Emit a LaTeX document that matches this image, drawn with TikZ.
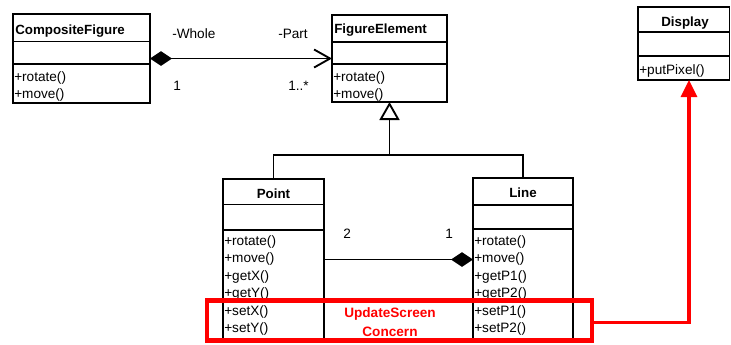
\documentclass[tikz,border=0pt]{standalone}
\usepackage{fontspec}
\setmainfont{Liberation Sans}
\usetikzlibrary{arrows.meta}

% UML class frame: name, left, top, right, bottom, first divider, second divider
\newcommand{\umlclass}[7]{%
  \node[classframe, minimum width={(#4-#2)*0.75pt}, minimum height={(#5-#3)*0.75pt}] (#1) at (#2,#3) {};
  \draw[umlline] (#2,#6) -- (#4,#6) (#2,#7) -- (#4,#7);
}

\tikzset{
  umlline/.style={line width=1.4pt},
  classframe/.style={draw, umlline, inner sep=0pt, outer sep=0pt, anchor=north west},
  classname/.style={font=\bfseries, inner sep=0pt},
  classop/.style={inner sep=0pt, anchor=base west},
  rolelabel/.style={inner sep=0pt, anchor=base west},
  concernbox/.style={draw=red, line width=3.6pt, inner sep=0pt, outer sep=0pt},
  concerntext/.style={text=red, align=center, inner sep=0pt,
    font=\bfseries\fontsize{10.2pt}{14.25pt}\selectfont},
  concernlink/.style={draw=red, line width=2.4pt}
}

\begin{document}
\begin{tikzpicture}[x=0.75pt, y=-0.75pt, font=\fontsize{10.2pt}{13pt}\selectfont]
\useasboundingbox (0,0) rectangle (731,344);

% classes
\umlclass{cf}{13}{14}{150}{103}{41.5}{64}
\node[classname, anchor=base west] (cfname) at (15,34) {CompositeFigure};
\node[classop] (cfop1) at (14,81) {+rotate()};
\node[classop] (cfop2) at (14,98) {+move()};

\umlclass{fe}{332}{15}{447}{102}{42}{64}
\node[classname, anchor=base west] (fename) at (334,33) {FigureElement};
\node[classop] (feop1) at (333,81) {+rotate()};
\node[classop] (feop2) at (333,98) {+move()};

\umlclass{disp}{638}{7}{729.5}{80}{32}{56}
\node[classname, anchor=base] (dispname) at (685,26) {Display};
\node[classop] (dispop1) at (639,74) {+putPixel()};

\umlclass{pt}{223}{179}{324}{340}{204.5}{230}
\node[classname, anchor=base] (ptname) at (273.5,198) {Point};
\node[classop] (ptop1) at (224,245) {+rotate()};
\node[classop] (ptop2) at (224,262.5) {+move()};
\node[classop] (ptop3) at (224,280) {+getX()};
\node[classop] (ptop4) at (224,297.5) {+getY()};
\node[classop] (ptop5) at (224,315) {+setX()};
\node[classop] (ptop6) at (224,332.5) {+setY()};

\umlclass{ln}{473}{178}{573}{339.5}{205}{229}
\node[classname, anchor=base] (lnname) at (523,197) {Line};
\node[classop] (lnop1) at (474,245) {+rotate()};
\node[classop] (lnop2) at (474,262.5) {+move()};
\node[classop] (lnop3) at (474,280) {+getP1()};
\node[classop] (lnop4) at (474,297.5) {+getP2()};
\node[classop] (lnop5) at (474,315) {+setP1()};
\node[classop] (lnop6) at (474,332.5) {+setP2()};

% composition CompositeFigure -> FigureElement
\draw[umlline, {Diamond[length=16.5pt,width=11pt]}-{Straight Barb[length=12pt,width=13.5pt]}]
  (cf.east) -- (fe.west);
\node[rolelabel] (whole) at (172,38) {-Whole};
\node[rolelabel] (part) at (278,38) {-Part};
\node[rolelabel] (mult1) at (173,90) {1};
\node[rolelabel] (multn) at (288,90) {1..*};

% generalization
\coordinate (gjy) at (0,155);
\coordinate (gj) at (fe.south |- gjy);
\draw[umlline] (pt.north) |- (gj) -| (ln.north);
\draw[umlline, -{Triangle[length=13.5pt,width=15pt,fill=white]}] (gj) -- (fe.south);

% composition Line <- Point
\draw[umlline, -{Diamond[length=16.5pt,width=11pt]}] (pt.east) -- (pt.east -| ln.west);
\node[rolelabel] (mult2) at (343,238) {2};
\node[rolelabel] (mult3) at (445,238) {1};

% crosscutting concern
\node[concernbox, minimum width={385*0.75pt}, minimum height={40*0.75pt}] (usc) at (399.5,320.5) {};
\node[concerntext] (usclabel) at (390,322) {UpdateScreen\\Concern};
\coordinate (rc) at (689,322.5);
\draw[concernlink, -{Triangle[length=12.75pt,width=12pt]}] (usc.east |- rc) -- (rc) -- (disp.south -| rc);
\end{tikzpicture}
\end{document}
